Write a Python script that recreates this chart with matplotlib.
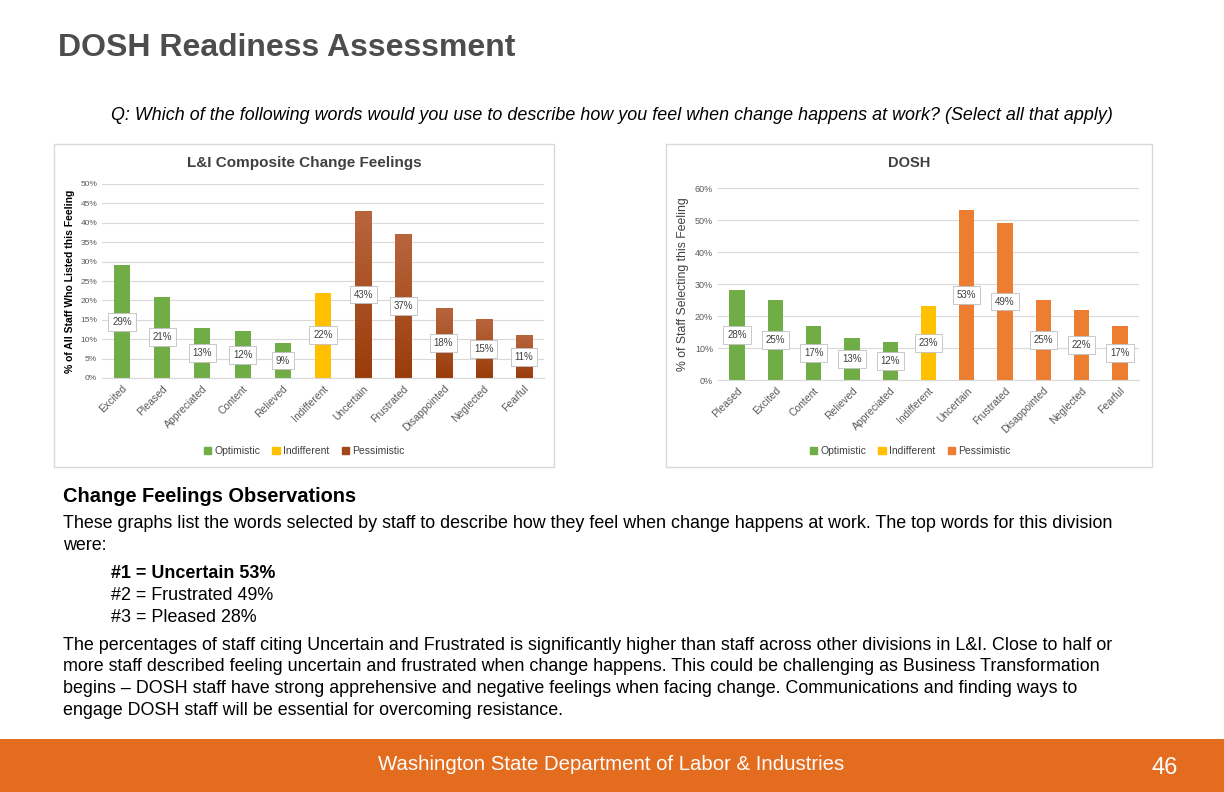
import numpy as np
import matplotlib.pyplot as plt
from matplotlib.patches import Rectangle, Patch
from matplotlib.colors import LinearSegmentedColormap

plt.rcParams['font.family'] = ['Liberation Sans', 'DejaVu Sans']

# L&I composite chart
li_words = ['Excited', 'Pleased', 'Appreciated', 'Content', 'Relieved', 'Indifferent',
            'Uncertain', 'Frustrated', 'Disappointed', 'Neglected', 'Fearful']
li_vals = [29, 21, 13, 12, 9, 22, 43, 37, 18, 15, 11]

# DOSH chart
dosh_words = ['Pleased', 'Excited', 'Content', 'Relieved', 'Appreciated', 'Indifferent',
              'Uncertain', 'Frustrated', 'Disappointed', 'Neglected', 'Fearful']
dosh_vals = [28, 25, 17, 13, 12, 23, 53, 49, 25, 22, 17]

groups = ['Optimistic'] * 5 + ['Indifferent'] + ['Pessimistic'] * 5
legend_names = ['Optimistic', 'Indifferent', 'Pessimistic']

body_lines = [
    'These graphs list the words selected by staff to describe how they feel when change happens at work. The top words for this division',
    'were:',
]
top_lines = ['#1 = Uncertain 53%', '#2 = Frustrated 49%', '#3 = Pleased 28%']
tail_lines = [
    'The percentages of staff citing Uncertain and Frustrated is significantly higher than staff across other divisions in L&I. Close to half or',
    'more staff described feeling uncertain and frustrated when change happens. This could be challenging as Business Transformation',
    'begins \u2013 DOSH staff have strong apprehensive and negative feelings when facing change. Communications and finding ways to',
    'engage DOSH staff will be essential for overcoming resistance.',
]

W, H = 1224, 792
fig = plt.figure(figsize=(12.24, 7.92), dpi=100)


def fx(x):
    return x / W


def fy(y):
    return 1 - y / H


def txt(x, y, s, **kw):
    fig.text(fx(x), fy(y), s, va='center', **kw)


txt(58, 48, 'DOSH Readiness Assessment', fontsize=23, fontweight='bold', color='#4d4d4d')
txt(612, 116, 'Q: Which of the following words would you use to describe how you feel when change happens at work? (Select all that apply)',
    fontsize=12.9, style='italic', ha='center', color='black')

# panel frames
for x0, x1 in [(54, 554), (666, 1152)]:
    fig.patches.append(Rectangle((fx(x0), fy(467)), fx(x1) - fx(x0), fy(144) - fy(467),
                                 transform=fig.transFigure, facecolor='white',
                                 edgecolor='#d9d9d9', lw=1, zorder=-1))


def draw_chart(rect, words, vals, colors, ymax, step, ylabel, ylbold, title, title_x, legend_x, gradient):
    ax = fig.add_axes(rect)
    ax.patch.set_alpha(0)
    x = np.arange(len(words))
    bars = ax.bar(x, vals, width=0.4, color=colors, zorder=2)
    if gradient:
        grad = np.linspace(0, 1, 100).reshape(-1, 1)
        cmap = LinearSegmentedColormap.from_list('br', ['#9a3c0a', '#b8653e'])
        for b, g in zip(bars, groups):
            if g == 'Pessimistic':
                bx, by = b.get_x(), b.get_y()
                ax.imshow(grad, extent=(bx, bx + b.get_width(), by, by + b.get_height()),
                          origin='lower', cmap=cmap, aspect='auto', zorder=2)
                b.set_visible(False)
    for xi, v in zip(x, vals):
        ax.text(xi, v / 2, f'{v}%', ha='center', va='center', fontsize=7, color='#404040', zorder=4,
                bbox=dict(boxstyle='square,pad=0.4', fc='white', ec='#bfbfbf', lw=0.6))
    ax.set_xlim(-0.5, len(words) - 0.5)
    ax.set_ylim(0, ymax)
    ax.set_yticks(np.arange(0, ymax + 1, step))
    ax.set_yticklabels([f'{t}%' for t in np.arange(0, ymax + 1, step)])
    ax.set_xticks(x)
    ax.set_xticklabels(words, rotation=45, ha='right', rotation_mode='anchor')
    ax.tick_params(length=0, labelsize=6 if ylbold else 6.5, colors='#595959')
    ax.tick_params(axis='x', labelsize=7.5, pad=4)
    ax.grid(axis='y', color='#d9d9d9', lw=0.8, zorder=0)
    for s in ['top', 'right', 'left']:
        ax.spines[s].set_visible(False)
    ax.spines['bottom'].set_color('#d9d9d9')
    ax.set_ylabel(ylabel, fontsize=7.5 if ylbold else 8.8, fontweight='bold' if ylbold else 'normal',
                  color='black' if ylbold else '#404040', labelpad=4)
    txt(title_x, 163, title, fontsize=11 if ylbold else 10.5, fontweight='bold', ha='center', color='#404040')
    leg_colors = [colors[0], colors[5], '#a4471b' if gradient else colors[-1]]
    handles = [Patch(color=c, label=n) for c, n in zip(leg_colors, legend_names)]
    fig.legend(handles=handles, loc='center', bbox_to_anchor=(fx(legend_x), fy(451)), ncol=3,
               frameon=False, fontsize=7.5, handlelength=0.7, handleheight=0.7,
               columnspacing=1.2, handletextpad=0.3, labelcolor='#404040')
    return ax


li_colors = ['#70ad47'] * 5 + ['#ffc000'] + ['#a4471b'] * 5
dosh_colors = ['#70ad47'] * 5 + ['#ffc000'] + ['#ed7d31'] * 5

draw_chart([fx(102), fy(378), fx(544) - fx(102), fy(184) - fy(378)], li_words, li_vals, li_colors,
           50, 5, '% of All Staff Who Listed this Feeling', True, 'L&I Composite Change Feelings', 304, 304, True)
draw_chart([fx(718), fy(380), fx(1139) - fx(718), fy(188) - fy(380)], dosh_words, dosh_vals, dosh_colors,
           60, 10, '% of Staff Selecting this Feeling', False, 'DOSH', 909, 910, False)

# observations text
txt(63, 496, 'Change Feelings Observations', fontsize=14.4, fontweight='bold', color='black')
for i, line in enumerate(body_lines):
    txt(63, 524 + 22 * i, line, fontsize=12.9, color='black')
for i, line in enumerate(top_lines):
    txt(111, 573 + 22 * i, line, fontsize=12.9, color='black', fontweight='bold' if i == 0 else 'normal')
for i, line in enumerate(tail_lines):
    txt(63, 645 + 21.7 * i, line, fontsize=12.9, color='black')

# footer
fig.patches.append(Rectangle((0, 0), 1, fy(739), transform=fig.transFigure,
                             facecolor='#e36c1f', edgecolor='none'))
txt(611, 765, 'Washington State Department of Labor & Industries', fontsize=14.7, ha='center', color='white')
txt(1165, 768, '46', fontsize=17, ha='center', color='white')

fig.savefig('out.png', dpi=100)
